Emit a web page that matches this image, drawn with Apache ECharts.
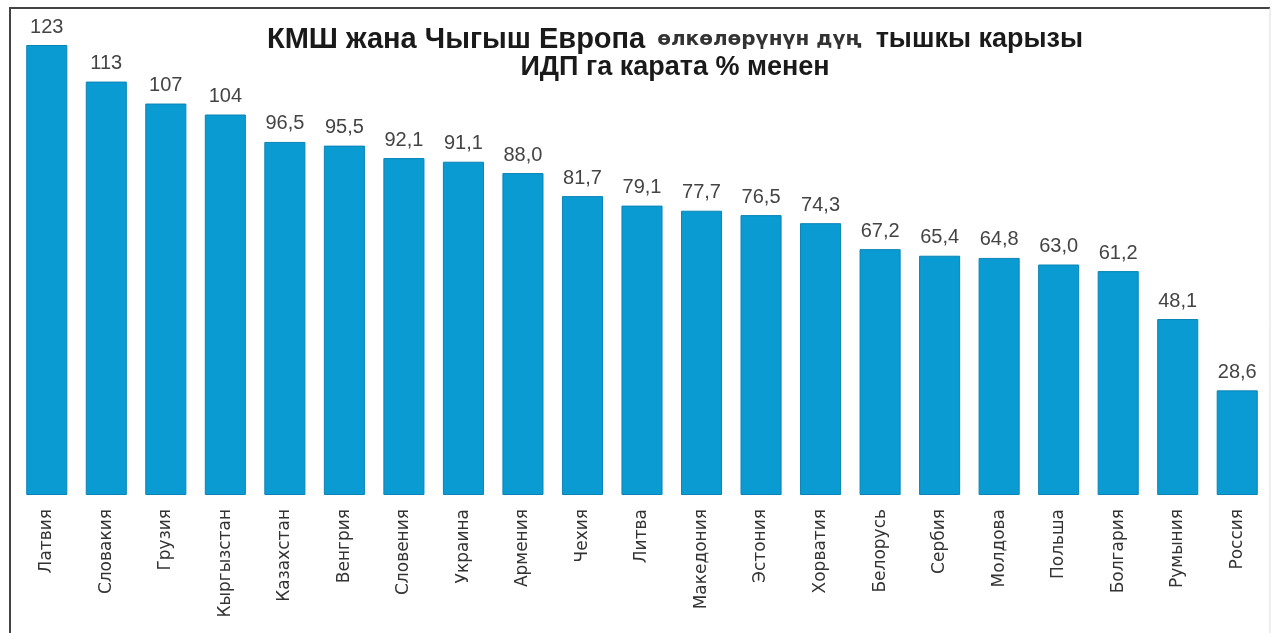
<!DOCTYPE html>
<html>
<head>
<meta charset="utf-8">
<script src="https://cdn.jsdelivr.net/npm/echarts@6/dist/echarts.min.js"></script>
<style>
html,body{margin:0;padding:0;background:#fff;}
#chart{width:1272px;height:633px;}
</style>
</head>
<body>
<div id="chart"></div>
<script>
var categories = ['Латвия','Словакия','Грузия','Кыргызстан','Казахстан','Венгрия','Словения','Украина','Армения','Чехия','Литва','Македония','Эстония','Хорватия','Белорусь','Сербия','Молдова','Польша','Болгария','Румыния','Россия'];
var values = [123,113,107,104,96.5,95.5,92.1,91.1,88.0,81.7,79.1,77.7,76.5,74.3,67.2,65.4,64.8,63.0,61.2,48.1,28.6];
var valueLabels = ['123','113','107','104','96,5','95,5','92,1','91,1','88,0','81,7','79,1','77,7','76,5','74,3','67,2','65,4','64,8','63,0','61,2','48,1','28,6'];
var titleMain = 'КМШ жана Чыгыш Европа';
var titleSmall = 'өлкөлөрүнүн дүң';
var titleEnd = 'тышкы карызы';
var subtitle = 'ИДП га карата % менен';

var chart = echarts.init(document.getElementById('chart'));
chart.setOption({
  backgroundColor: '#ffffff',
  animation: false,
  title: {
    left: 670, top: 21, textAlign: 'center',
    text: '{a|' + titleMain + '}{s|' + titleSmall + '}{b|' + titleEnd + '}\n{b|' + subtitle + '}',
    textStyle: {
      lineHeight: 28,
      rich: {
        a: {fontFamily: 'Liberation Sans', fontWeight: 'bold', fontSize: 29, color: '#1a1a1a', lineHeight: 28},
        b: {fontFamily: 'Liberation Sans', fontWeight: 'bold', fontSize: 27, color: '#1a1a1a', lineHeight: 28},
        s: {fontFamily: 'DejaVu Sans', fontWeight: 'bold', fontSize: 20, color: '#333', lineHeight: 28, padding: [0, 14, 0, 12]}
      }
    }
  },
  grid: {left: 17, right: 5, top: 45, bottom: 138, containLabel: false},
  xAxis: {
    type: 'category', data: categories,
    axisLine: {show: false}, axisTick: {show: false},
    axisLabel: {rotate: 90, margin: 14, fontFamily: 'DejaVu Sans', fontSize: 17, color: '#333', interval: 0}
  },
  yAxis: {type: 'value', min: 0, max: 123, show: false, splitLine: {show: false}},
  series: [{
    type: 'bar', data: values, barCategoryGap: '31%',
    itemStyle: {color: '#0a9bd3', borderColor: '#0a84b6', borderWidth: 1},
    label: {
      show: true, position: 'top', distance: 8,
      fontFamily: 'Liberation Sans', fontSize: 20, color: '#444',
      formatter: function (p) { return valueLabels[p.dataIndex]; }
    }
  }],
  graphic: [{
    type: 'polyline', silent: true,
    shape: {points: [[10, 633], [10, 8], [1270, 8]]},
    style: {stroke: '#444', lineWidth: 2, fill: null}
  }, {
    type: 'line', silent: true,
    shape: {x1: 1270, y1: 8, x2: 1270, y2: 633},
    style: {stroke: '#ddd', lineWidth: 1}
  }]
});
</script>
</body>
</html>
